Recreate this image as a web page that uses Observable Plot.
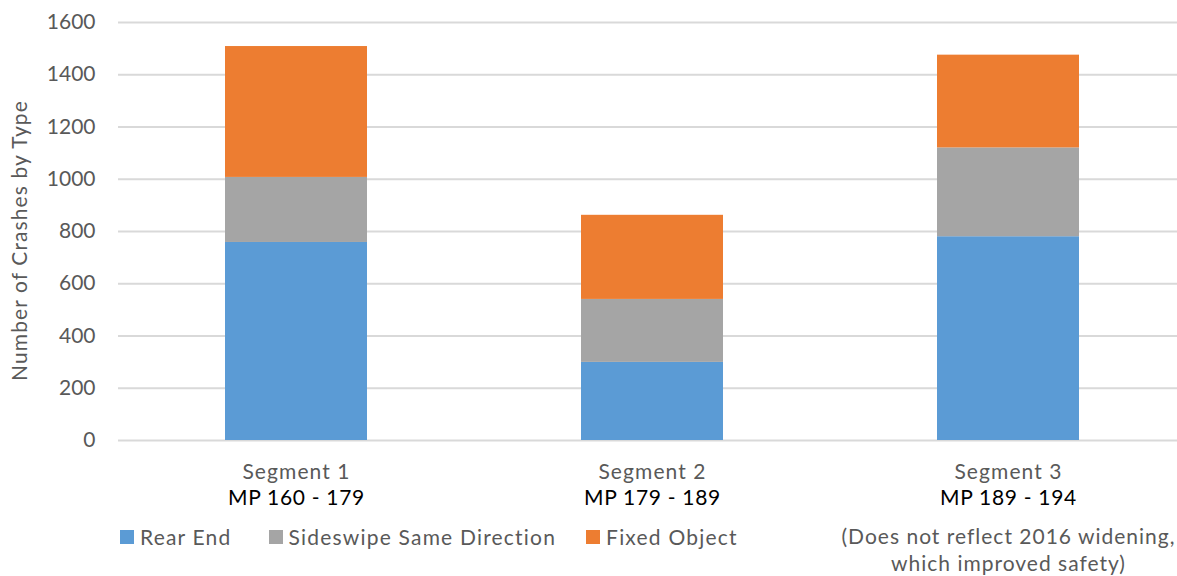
<!DOCTYPE html>
<html>
<head>
<meta charset="utf-8">
<script src="https://cdn.jsdelivr.net/npm/d3@7"></script>
<script src="https://cdn.jsdelivr.net/npm/@observablehq/plot@0.6"></script>
<style>
  html, body { margin: 0; padding: 0; background: #fff; }
  #wrap { position: relative; width: 1177px; height: 576px; font-family: Lato, "Open Sans", sans-serif; }
  #legend { position: absolute; left: 120px; top: 524px; display: flex; align-items: center; font-size: 21px; color: #595959; letter-spacing: 1.2px; }
  #legend .item { display: flex; align-items: center; }
  #legend .sw { width: 14px; height: 14px; display: inline-block; margin-right: 6px; }
</style>
</head>
<body>
<div id="wrap"></div>
<script>
const segments = ["Segment 1", "Segment 2", "Segment 3"];
const mpLabels = ["MP 160 - 179", "MP 179 - 189", "MP 189 - 194"];
const crashTypes = ["Rear End", "Sideswipe Same Direction", "Fixed Object"];
const rearEnd = [758, 299, 780];
const sideswipe = [249, 241, 340];
const fixedObject = [501, 322, 355];
const typeColors = ["#5b9bd5", "#a5a5a5", "#ed7d31"];
const yTicks = [0, 200, 400, 600, 800, 1000, 1200, 1400, 1600];
const noteLines = ["(Does not reflect 2016 widening,", "which improved safety)"];

const series = [rearEnd, sideswipe, fixedObject];
const rows = [];
segments.forEach((s, i) => {
  crashTypes.forEach((t, j) => rows.push({segment: s, type: t, value: series[j][i]}));
});
const labelRows = segments.map((s, i) => ({segment: s, mp: mpLabels[i]}));
const noteRows = noteLines.map((l, k) => ({segment: segments[2], line: l, k}));

const chart = Plot.plot({
  width: 1177,
  height: 576,
  marginLeft: 118,
  marginRight: 0,
  marginTop: 22,
  marginBottom: 136,
  style: {fontFamily: "Lato, 'Open Sans', sans-serif", fontSize: "21px", color: "#595959", background: "#fff"},
  x: {domain: segments, range: [118, 1186], paddingInner: 0.6, paddingOuter: 0.3, axis: null},
  y: {domain: [0, 1600], ticks: yTicks},
  color: {domain: crashTypes, range: typeColors},
  marks: [
    Plot.ruleY(yTicks, {stroke: "#d9d9d9", strokeWidth: 2}),
    Plot.barY(rows, {x: "segment", y: "value", fill: "type"}),
    Plot.axisY(yTicks, {tickSize: 0, tickPadding: 23, fontSize: 21, fill: "#595959", tickFormat: d3.format("d"),
      label: null}),
    Plot.axisY({ticks: [], tickSize: 0, fontSize: 21, fill: "#595959",
      label: "Number of Crashes by Type", labelAnchor: "center", labelOffset: 106, labelArrow: "none"}),
    Plot.text(labelRows, {x: "segment", y: 0, text: "segment", dy: 32, fill: "#595959", fontSize: 21}),
    Plot.text(labelRows, {x: "segment", y: 0, text: "mp", dy: 58, fill: "#000", fontSize: 21}),
    Plot.text(noteRows, {x: "segment", y: 0, text: "line", fill: "#595959", fontSize: 21, filter: d => d.k === 0, dy: 97}),
    Plot.text(noteRows, {x: "segment", y: 0, text: "line", fill: "#595959", fontSize: 21, filter: d => d.k === 1, dy: 124})
  ]
});

// letter spacing to mimic the wider original typeface
const spacing = [1.1, 0.7, 1.0, 1.0];
d3.select(chart).selectAll("g[aria-label='text']").each(function(_, i) {
  d3.select(this).selectAll("text").style("letter-spacing", spacing[i] + "px");
});
const yLab = d3.select(chart).select("g[aria-label='y-axis label']");
yLab.selectAll("text").style("letter-spacing", "1.1px");
yLab.attr("transform", "translate(0,9) " + (yLab.attr("transform") || ""));

const wrap = document.getElementById("wrap");
wrap.appendChild(chart);

const legend = document.createElement("div");
legend.id = "legend";
const gaps = [37, 30, 0];
crashTypes.forEach((t, i) => {
  const item = document.createElement("div");
  item.className = "item";
  item.style.marginRight = gaps[i] + "px";
  const sw = document.createElement("span");
  sw.className = "sw";
  sw.style.background = typeColors[i];
  item.appendChild(sw);
  const lab = document.createElement("span");
  lab.textContent = t;
  item.appendChild(lab);
  legend.appendChild(item);
});
wrap.appendChild(legend);
</script>
</body>
</html>
